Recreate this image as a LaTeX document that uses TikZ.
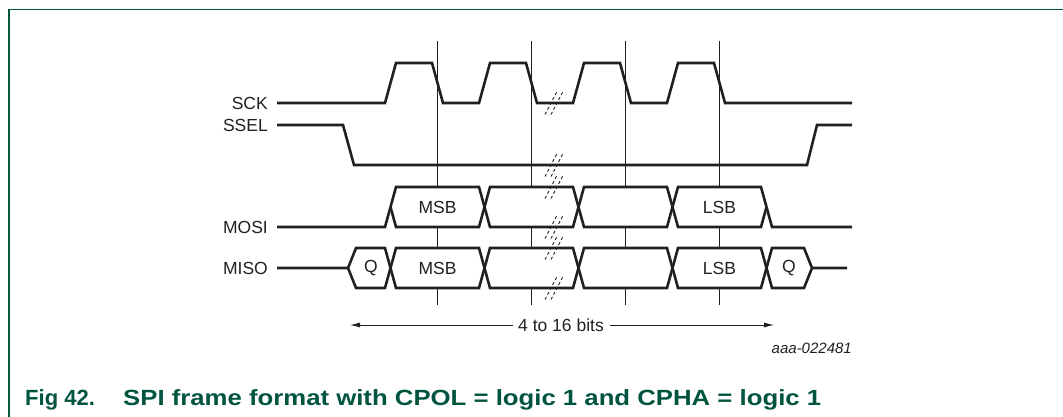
\documentclass[tikz,border=0pt]{standalone}
\usepackage{fontspec}
\setmainfont{Liberation Sans}
\usetikzlibrary{arrows.meta}
\definecolor{nxpgreen}{RGB}{0,84,64}
\definecolor{ink}{RGB}{35,31,32}
\begin{document}
\begin{tikzpicture}[x=1pt,y=-1pt,
  sig/.style={line width=2.6pt, draw=ink, line join=miter},
  gridline/.style={line width=0.9pt, draw=ink},
  lbl/.style={font=\fontsize{17.5}{20}\selectfont, inner sep=0pt, text=ink},
  brk/.style={line width=0.9pt, draw=ink, dash pattern=on 3pt off 2.5pt},
  dimarrow/.style={line width=0.9pt, draw=ink, -{Latex[length=10pt,width=5pt]}},
  captionstyle/.style={anchor=base west, inner sep=0pt, text=nxpgreen, font=\fontsize{22}{26}\selectfont\bfseries}]
\useasboundingbox (0,0) rectangle (1063,417);
% frame
\draw[nxpgreen, line width=1.6pt] (9,418) -- (9,9.5) -- (1064,9.5);
% vertical timing lines
\foreach \x in {437.5,531.5,625.5,719.5}
  \draw[gridline] (\x,41) -- (\x,305);
% labels
\node[lbl, anchor=east] (sck)  at (268,103) {SCK};
\node[lbl, anchor=east] (ssel) at (268,125) {SSEL};
\node[lbl, anchor=east] (mosi) at (268,227) {MOSI};
\node[lbl, anchor=east] (miso) at (268,268) {MISO};
% SCK
\draw[sig] ([xshift=9pt]sck.east) -- (385,103) -- (396,63) -- (432,63) -- (443,103)
  -- (479,103) -- (490,63) -- (526,63) -- (537,103)
  -- (573,103) -- (584,63) -- (620,63) -- (631,103)
  -- (667,103) -- (678,63) -- (714,63) -- (725,103) -- (852,103);
% SSEL
\draw[sig] ([xshift=9pt]ssel.east) -- (343,125) -- (354,165) -- (807,165) -- (817,125) -- (852,125);
% MOSI boxes
\foreach \a/\b in {390.5/484.5,484.5/578.5,578.5/672.5,672.5/766.5}
  \fill[white] (\a,207) -- ({\a+5.5},187) -- ({\b-5.5},187) -- (\b,207) -- ({\b-5.5},227) -- ({\a+5.5},227) -- cycle;
\foreach \a/\b in {390.5/484.5,484.5/578.5,578.5/672.5,672.5/766.5}
  \draw[sig] (\a,207) -- ({\a+5.5},187) -- ({\b-5.5},187) -- (\b,207)
             (\a,207) -- ({\a+5.5},227) -- ({\b-5.5},227) -- (\b,207);
\draw[sig] ([xshift=9pt]mosi.east) -- (385,227) -- (390.5,207);
\draw[sig] (766.5,207) -- (772,227) -- (852,227);
% MISO boxes
\fill[white] (348,268) -- (356,248) -- (385,248) -- (390.5,268) -- (385,288) -- (356,288) -- cycle;
\fill[white] (766.5,268) -- (772,248) -- (804,248) -- (812,268) -- (804,288) -- (772,288) -- cycle;
\foreach \a/\b in {390.5/484.5,484.5/578.5,578.5/672.5,672.5/766.5}
  \fill[white] (\a,268) -- ({\a+5.5},248) -- ({\b-5.5},248) -- (\b,268) -- ({\b-5.5},288) -- ({\a+5.5},288) -- cycle;
\foreach \a/\b in {390.5/484.5,484.5/578.5,578.5/672.5,672.5/766.5}
  \draw[sig] (\a,268) -- ({\a+5.5},248) -- ({\b-5.5},248) -- (\b,268)
             (\a,268) -- ({\a+5.5},288) -- ({\b-5.5},288) -- (\b,268);
\draw[sig] ([xshift=9pt]miso.east) -- (348,268) -- (356,248) -- (385,248) -- (390.5,268)
           (348,268) -- (356,288) -- (385,288) -- (390.5,268);
\draw[sig] (766.5,268) -- (772,248) -- (804,248) -- (812,268) -- (847,268)
           (766.5,268) -- (772,288) -- (804,288) -- (812,268);
% bus texts
\node[lbl] (mosimsb) at (437.5,207) {MSB};
\node[lbl] (mosilsb) at (719.5,207) {LSB};
\node[lbl] (misoq1)  at (371,268) {Q};
\node[lbl] (misomsb) at (437.5,268) {MSB};
\node[lbl] (misolsb) at (719.5,268) {LSB};
\node[lbl] (misoq2)  at (789,268) {Q};
% break marks
\foreach \y in {103,165,187,227,248,288} {
  \draw[brk] (545,{\y+11.5}) -- (557,{\y-11.5});
  \draw[brk] (551,{\y+11.5}) -- (563,{\y-11.5});
}
% dimension arrow
\node[lbl] (bits) at (561,325) {4 to 16 bits};
\coordinate (arrl) at (350,325);
\coordinate (arrr) at (774,325);
\draw[dimarrow] ([xshift=-5pt]bits.west) -- (arrl);
\draw[dimarrow] ([xshift=6pt]bits.east) -- (arrr);
% figure id
\node[anchor=east, inner sep=0pt, text=ink, font=\fontsize{15}{18}\selectfont\itshape] (figid) at (852,348) {aaa-022481};
% caption
\node[captionstyle] (capnum) at (25,405) {Fig 42.};
\node[captionstyle] (captext) at (123,405) {\scalebox{1.17}[1]{SPI frame format with CPOL = logic 1 and CPHA = logic 1}};
\end{tikzpicture}
\end{document}
